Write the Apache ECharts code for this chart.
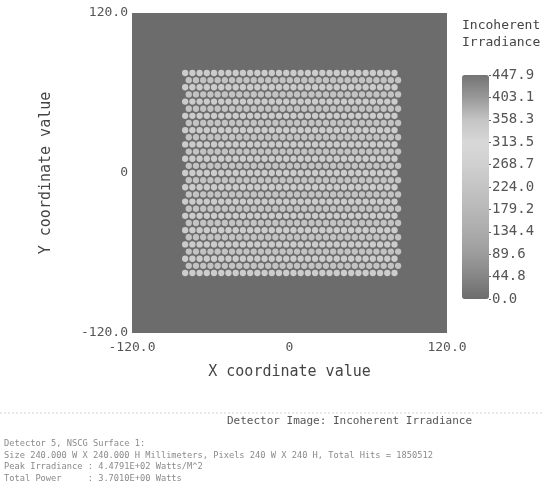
<!DOCTYPE html>
<html>
<head>
<meta charset="utf-8">
<script src="https://cdn.jsdelivr.net/npm/echarts@6/dist/echarts.min.js"></script>
<style>
html,body{margin:0;padding:0;background:#fff;}
#chart{width:542px;height:490px;}
</style>
</head>
<body>
<div id="chart"></div>
<script>
// ---- data ----
const axisTicks = [-120, 0, 120];
const axisTickLabels = ['-120.0', '0', '120.0'];

const colorbarTicks = ['0.0', '44.8', '89.6', '134.4', '179.2', '224.0', '268.7', '313.5', '358.3', '403.1', '447.9'];
const irradianceMax = 447.9;

// dot centres (mm): rows alternate between two column sets
const colXEven = [-79.5, -74, -68.5, -63, -57.5, -52, -46.5, -41, -35.5, -30, -24.5, -19, -13.5, -8, -2.5, 3, 8.5, 14, 19.5, 25, 30.5, 36, 41.5, 47, 52.5, 58, 63.5, 69, 74.5, 80];
const colXOdd = [-76.75, -71.25, -65.75, -60.25, -54.75, -49.25, -43.75, -38.25, -32.75, -27.25, -21.75, -16.25, -10.75, -5.25, 0.25, 5.75, 11.25, 16.75, 22.25, 27.75, 33.25, 38.75, 44.25, 49.75, 55.25, 60.75, 66.25, 71.75, 77.25, 82.75];
const rowY = [75, 69.6, 64.3, 58.9, 53.6, 48.2, 42.9, 37.5, 32.1, 26.8, 21.4, 16.1, 10.7, 5.4, 0, -5.4, -10.7, -16.1, -21.4, -26.8, -32.1, -37.5, -42.9, -48.2, -53.6, -58.9, -64.3, -69.6, -75];
const rowIrradiance = [255, 220, 255, 220, 255, 220, 255, 220, 255, 220, 255, 220, 255, 220, 255, 220, 255, 220, 255, 220, 255, 220, 255, 220, 255, 220, 255, 220, 255];

const footerTitle = 'Detector Image: Incoherent Irradiance';
const footerLines = [
  'Detector 5, NSCG Surface 1:',
  'Size 240.000 W X 240.000 H Millimeters, Pixels 240 W X 240 H, Total Hits = 1850512',
  'Peak Irradiance : 4.4791E+02 Watts/M^2',
  'Total Power     : 3.7010E+00 Watts'
];

// ---- build ----
const dots = [];
rowY.forEach((y, r) => {
  const cols = (r % 2 === 0) ? colXEven : colXOdd;
  cols.forEach(x => dots.push([x, y, rowIrradiance[r]]));
});

const FONT = 'DejaVu Sans Mono';
const chart = echarts.init(document.getElementById('chart'), null, {renderer: 'canvas'});

const footerGraphics = [
  {type: 'line', shape: {x1: 0, y1: 413, x2: 542, y2: 413}, style: {stroke: '#d4d4d4', lineWidth: 1, lineDash: [2, 2]}},
  {type: 'text', left: 227, top: 416, style: {text: footerTitle, font: '11px "' + FONT + '"', fill: '#555'}}
];
footerLines.forEach((t, i) => {
  footerGraphics.push({type: 'text', left: 4, top: 439 + i * 11.8, style: {text: t, font: '8.7px "' + FONT + '"', fill: '#8a8a8a'}});
});

chart.setOption({
  animation: false,
  backgroundColor: '#ffffff',
  textStyle: {fontFamily: FONT},
  grid: [
    {left: 132, top: 13, width: 315, height: 320, show: true, backgroundColor: '#6c6c6c', borderWidth: 0},
    {left: 489, top: 75, width: 1, height: 224, show: false}
  ],
  xAxis: [
    {
      gridIndex: 0, type: 'value', min: -120, max: 120, interval: 120,
      axisLine: {show: false}, axisTick: {show: false}, splitLine: {show: false},
      axisLabel: {color: '#555', fontSize: 13, fontFamily: FONT, margin: 8,
        formatter: v => axisTickLabels[axisTicks.indexOf(v)]},
      name: 'X coordinate value', nameLocation: 'middle', nameGap: 32,
      nameTextStyle: {color: '#444', fontSize: 15, fontFamily: FONT}
    },
    {gridIndex: 1, type: 'value', show: false}
  ],
  yAxis: [
    {
      gridIndex: 0, type: 'value', min: -120, max: 120, interval: 120,
      axisLine: {show: false}, axisTick: {show: false}, splitLine: {show: false},
      axisLabel: {color: '#555', fontSize: 13, fontFamily: FONT, margin: 4,
        formatter: v => axisTickLabels[axisTicks.indexOf(v)]},
      name: 'Y coordinate value', nameLocation: 'middle', nameGap: 78, nameRotate: 90,
      nameTextStyle: {color: '#444', fontSize: 15, fontFamily: FONT}
    },
    {
      gridIndex: 1, type: 'category', data: colorbarTicks, boundaryGap: false, position: 'right',
      axisLine: {show: false},
      axisTick: {show: true, length: 2, lineStyle: {color: '#666'}},
      splitLine: {show: false},
      axisLabel: {color: '#555', fontSize: 14, fontFamily: FONT, margin: 2, interval: 0}
    }
  ],
  visualMap: {
    type: 'continuous', min: 0, max: irradianceMax, dimension: 2, seriesIndex: 0,
    calculable: false, showLabel: false, text: null, hoverLink: false,
    left: 462, top: 75, itemWidth: 27, itemHeight: 224, padding: 0,
    inRange: {color: ['#6c6c6c', '#858585', '#9c9c9c', '#acacac', '#b8b8b8', '#c4c4c4', '#d0d0d0', '#d8d8d8', '#c4c4c4', '#989898', '#747474']}
  },
  title: {
    text: 'Incoherent\nIrradiance', left: 462, top: 17, padding: 0,
    textStyle: {fontFamily: FONT, fontSize: 13, fontWeight: 'normal', color: '#444', lineHeight: 17}
  },
  graphic: footerGraphics,
  series: [{
    type: 'scatter', xAxisIndex: 0, yAxisIndex: 0,
    data: dots, symbol: 'circle', symbolSize: 6.3, silent: true,
    itemStyle: {opacity: 1}
  }]
});
</script>
</body>
</html>
